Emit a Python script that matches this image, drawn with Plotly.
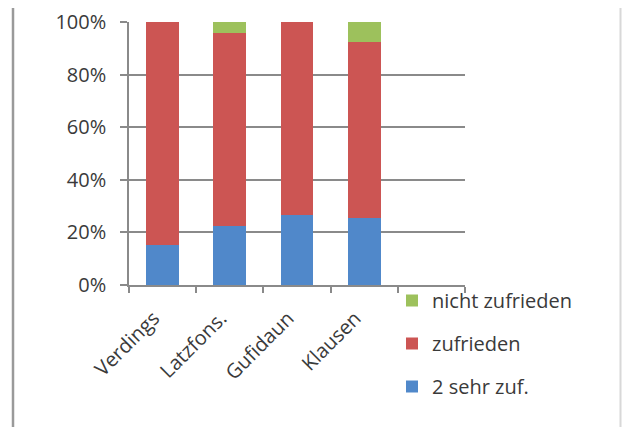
import plotly.graph_objects as go

categories = ["Verdings", "Latzfons.", "Gufidaun", "Klausen"]
sehr_zuf = [15.2, 22.4, 26.7, 25.3]
zufrieden = [84.8, 73.5, 73.3, 67.2]
nicht_zuf = [0.0, 4.1, 0.0, 7.5]
series_names = ["2 sehr zuf.", "zufrieden", "nicht zufrieden"]
series_colors = ["#5088CA", "#CC5553", "#9DC15C"]
y_ticks = [0, 20, 40, 60, 80, 100]
y_ticklabels = ["0%", "20%", "40%", "60%", "80%", "100%"]

# page body has an 8px margin; lay out the figure in screen coordinates minus that
OFF = 8
W, H = 631 - OFF, 427 - OFF
PL, PR, PT, PB = 129 - OFF, 465 - OFF, 22 - OFF, 285 - OFF
FONT = "Open Sans"
TXT = "#3a3a3a"
GRID = "#8a8a8a"

fig = go.Figure()
n = len(series_names)
for i, (name, vals, col) in enumerate(zip(series_names, [sehr_zuf, zufrieden, nicht_zuf], series_colors)):
    fig.add_trace(go.Bar(
        x=categories, y=vals, name=name, legendgroup="g%d" % (n - i), legendrank=n - i,
        marker=dict(color=col, line=dict(width=0)),
    ))

pw = PR - PL
ph = PB - PT
def px(xf):
    return (xf - PL) / pw
def py(yf):
    return (PB - yf) / ph

fig.update_layout(
    width=W, height=H,
    margin=dict(l=PL, r=W - PR, t=PT, b=H - PB, autoexpand=False),
    barmode="stack", bargap=0.51,
    paper_bgcolor="white", plot_bgcolor="white",
    font=dict(family=FONT, size=20, color=TXT),
    showlegend=True,
    legend=dict(
        x=px(392 - OFF), y=py(281 - OFF), xanchor="left", yanchor="top",
        traceorder="grouped", tracegroupgap=14,
        font=dict(family=FONT, size=20, color=TXT),
        bgcolor="rgba(0,0,0,0)", itemwidth=30,
    ),
    xaxis=dict(
        type="category", categoryorder="array", categoryarray=categories + [" "],
        range=[-0.5, 4.5],
        tickangle=-45, tickson="boundaries", ticks="outside", ticklen=6,
        tickcolor=GRID, tickwidth=1.5,
        showline=True, linecolor=GRID, linewidth=1.5,
        showgrid=False, tickfont=dict(family=FONT, size=20, color=TXT),
        ticklabelstandoff=12, ticklabelshift=-9,
        automargin=False,
    ),
    yaxis=dict(
        range=[0, 100], tickvals=y_ticks, ticktext=y_ticklabels,
        ticks="outside", ticklen=7, tickcolor=GRID, tickwidth=1.5,
        showline=True, linecolor=GRID, linewidth=1.5,
        showgrid=True, gridcolor=GRID, gridwidth=1.5,
        zeroline=False, tickfont=dict(family=FONT, size=20, color=TXT),
        ticklabelstandoff=10, automargin=False,
    ),
    shapes=[
        dict(type="line", xref="paper", yref="paper", x0=px(13 - OFF), x1=px(13 - OFF), y0=-2, y1=2,
             line=dict(color="#9a9a9a", width=2.5)),
        dict(type="line", xref="paper", yref="paper", x0=px(620.5 - OFF), x1=px(620.5 - OFF), y0=-2, y1=2,
             line=dict(color="#d8d8d8", width=2)),
        dict(type="line", xref="paper", yref="paper", x0=px(630 - OFF), x1=px(630 - OFF), y0=-2, y1=2,
             line=dict(color="black", width=2)),
    ],
)

fig.write_html("out.html")
